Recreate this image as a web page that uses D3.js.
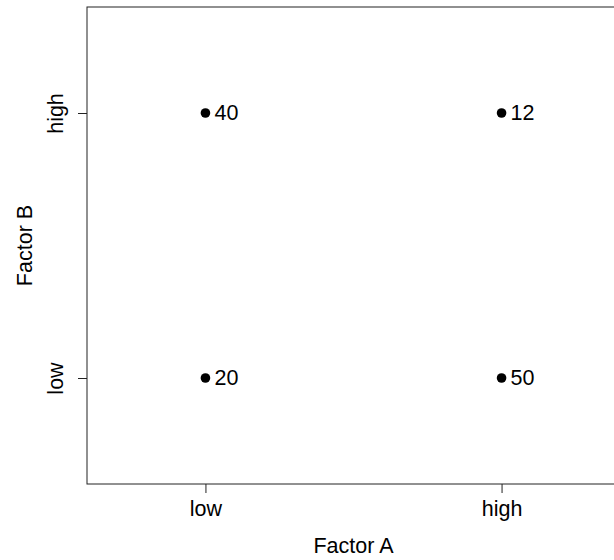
<!DOCTYPE html>
<html>
<head>
<meta charset="utf-8">
<script src="https://cdn.jsdelivr.net/npm/d3@7"></script>
<style>
  html, body { margin: 0; padding: 0; background: #fff; }
  svg { display: block; }
  text { font-family: "Liberation Sans", Arial, Helvetica, sans-serif; fill: #000; }
</style>
</head>
<body>
<script>
// Two-level factorial design: response at each combination of Factor A and Factor B
const levels = ["low", "high"];
const factorA = ["low", "high", "low", "high"];
const factorB = ["low", "low", "high", "high"];
const response = [20, 50, 40, 12];

const width = 614, height = 560;
const margin = { top: 7, left: 87 };
const plotW = 533, plotH = 477;

const svg = d3.select("body").append("svg")
  .attr("width", width).attr("height", height);

// coded levels: low = 0, high = 1, with 0.4 padding on each side
const code = d => levels.indexOf(d);
const x = d3.scaleLinear().domain([-0.4, 1.4]).range([margin.left, margin.left + plotW]);
const y = d3.scaleLinear().domain([-0.4, 1.4]).range([margin.top + plotH, margin.top]);

const fs = 21.5;

// frame
svg.append("rect")
  .attr("x", x(-0.4)).attr("y", y(1.4))
  .attr("width", x(1.4) - x(-0.4)).attr("height", y(-0.4) - y(1.4))
  .attr("fill", "none").attr("stroke", "#222").attr("stroke-width", 1);

// x axis
const xAxis = d3.axisBottom(x)
  .tickValues([0, 1])
  .tickFormat(d => levels[d])
  .tickSize(9).tickPadding(8);
const gx = svg.append("g")
  .attr("transform", `translate(0,${y(-0.4)})`)
  .call(xAxis);
gx.select(".domain").remove();
gx.selectAll(".tick line").attr("stroke", "#222");
gx.selectAll(".tick text").attr("font-size", fs).attr("dy", "0.71em")
  .style("font-family", "'Liberation Sans', Arial, sans-serif");

// y axis, labels rotated parallel to the axis
const yAxis = d3.axisLeft(y)
  .tickValues([0, 1])
  .tickFormat(d => levels[d])
  .tickSize(9);
const gy = svg.append("g")
  .attr("transform", `translate(${x(-0.4)},0)`)
  .call(yAxis);
gy.select(".domain").remove();
gy.selectAll(".tick line").attr("stroke", "#222");
gy.selectAll(".tick text")
  .attr("font-size", fs)
  .attr("x", null).attr("dy", null)
  .attr("text-anchor", "middle")
  .attr("transform", "translate(-24,0) rotate(-90)")
  .style("font-family", "'Liberation Sans', Arial, sans-serif");

// axis titles
svg.append("text")
  .attr("x", (x(-0.4) + x(1.4)) / 2).attr("y", 553)
  .attr("text-anchor", "middle").attr("font-size", fs)
  .text("Factor A");
svg.append("text")
  .attr("transform", `translate(32,${(y(-0.4) + y(1.4)) / 2}) rotate(-90)`)
  .attr("text-anchor", "middle").attr("font-size", fs)
  .text("Factor B");

// design points with their responses
const pts = response.map((v, i) => ({ a: code(factorA[i]), b: code(factorB[i]), v }));
svg.append("g").selectAll("circle").data(pts).join("circle")
  .attr("cx", d => x(d.a)).attr("cy", d => y(d.b))
  .attr("r", 4.8).attr("fill", "#000");
svg.append("g").selectAll("text").data(pts).join("text")
  .attr("x", d => x(d.a) + 9).attr("y", d => y(d.b) + 6.5)
  .attr("font-size", fs)
  .text(d => d.v);
</script>
</body>
</html>
